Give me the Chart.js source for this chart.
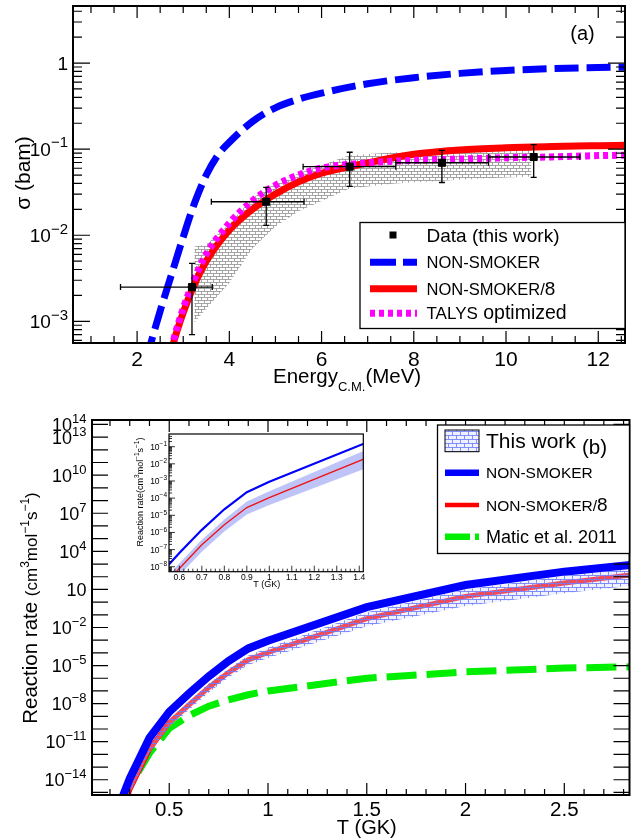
<!DOCTYPE html>
<html>
<head>
<meta charset="utf-8">
<script src="https://cdn.jsdelivr.net/npm/chart.js@4.4.1/dist/chart.umd.min.js"></script>
<style>
html, body { margin: 0; padding: 0; background: #fff; }
#wrap { position: relative; width: 631px; height: 839px; overflow: hidden; }
canvas { position: absolute; }
</style>
</head>
<body>
<div id="wrap">
  <canvas id="chartA" width="631" height="395" style="left:0;top:0;width:631px;height:395px"></canvas>
  <canvas id="chartB" width="631" height="444" style="left:0;top:395px;width:631px;height:444px"></canvas>
  <canvas id="inset" width="250" height="165" style="left:120px;top:425px;width:250px;height:165px"></canvas>
</div>
<script>
// ---- panel (a): cross section vs energy ----
const blueE = [2.2, 2.3, 2.5, 2.75, 3.0, 3.25, 3.5, 3.75, 4.0, 4.5, 5.0, 5.5, 6.0, 7.0, 8.0, 9.0, 10.0, 11.0, 12.0, 12.6];
const nonSmoker = [3.55e-4, 5.62e-4, 1.32e-3, 3.55e-3, 9.55e-3, 0.0240, 0.050, 0.0851, 0.120, 0.209, 0.302, 0.380, 0.447, 0.575, 0.676, 0.759, 0.822, 0.861, 0.887, 0.895];
const redE = [2.7, 2.8, 3.0, 3.25, 3.5, 4.0, 4.5, 5.0, 5.5, 6.0, 7.0, 8.0, 9.0, 10.0, 11.0, 12.0, 12.6];
const nonSmoker8 = [3.55e-4, 5.89e-4, 1.26e-3, 2.75e-3, 5.0e-3, 0.0115, 0.0200, 0.0302, 0.0417, 0.0525, 0.0692, 0.0871, 0.0977, 0.1035, 0.107, 0.1096, 0.111];
const talys = [3.8e-4, 6.31e-4, 1.41e-3, 3.16e-3, 6.03e-3, 0.0138, 0.0251, 0.0380, 0.0501, 0.0603, 0.0692, 0.0741, 0.0767, 0.0794, 0.0813, 0.0841, 0.0851];
const bandE = [3.24, 3.5, 4.0, 4.5, 5.0, 5.5, 6.0, 6.6, 7.6, 8.6, 9.6, 10.55];
const bandHigh = [7.4e-3, 7.8e-3, 0.0135, 0.027, 0.040, 0.052, 0.065, 0.085, 0.092, 0.094, 0.097, 0.100];
const bandLow = [9.6e-4, 1.4e-3, 2.8e-3, 7.0e-3, 0.0126, 0.019, 0.025, 0.035, 0.040, 0.043, 0.046, 0.048];

const dataE = [3.19, 4.80, 6.61, 8.61, 10.6];
const dataSigma = [2.5e-3, 0.0245, 0.0625, 0.0695, 0.081];
const dataELow = [1.64, 3.61, 5.6, 7.61, 9.62];
const dataEHigh = [3.63, 5.62, 7.61, 9.62, 11.6];
const dataSigmaLow = [7e-4, 0.013, 0.037, 0.041, 0.047];
const dataSigmaHigh = [4.7e-3, 0.036, 0.092, 0.097, 0.113];

// ---- panel (b): reaction rate vs temperature (log10 of the rate) ----
const rateT = [0.25, 0.3, 0.4, 0.5, 0.6, 0.7, 0.8, 0.9, 1.0, 1.5, 2.0, 2.5, 3.0];
const logNonSmoker = [-15.9, -13.9, -10.7, -8.65, -7.2, -5.85, -4.65, -3.65, -3.05, -0.4, 1.35, 2.4, 3.2];
const logNonSmoker8 = [-17.2, -14.8, -11.6, -9.5, -8.1, -6.72, -5.55, -4.55, -3.97, -1.3, 0.45, 1.5, 2.45];
const logMatic = [-16.2, -14.5, -11.9, -9.95, -8.95, -8.2, -7.7, -7.3, -7.0, -6.0, -5.5, -5.2, -5.05];
const logThisWorkHigh = [-16.9, -14.6, -11.35, -9.25, -7.8, -6.42, -5.25, -4.2, -3.6, -0.8, 1.0, 2.05, 2.95];
const logThisWorkLow = [-17.5, -15.1, -11.9, -9.85, -8.5, -7.12, -5.95, -4.95, -4.4, -1.9, -0.3, 0.7, 1.6];

// tick labels
const xLabelsA = [2, 4, 6, 8, 10, 12];
const yExpA = [0, -1, -2, -3];
const xLabelsB = [0.5, 1, 1.5, 2, 2.5];
const yExpB = [14, 13, 10, 7, 4, 1, -2, -5, -8, -11, -14];
const xLabelsInset = [0.6, 0.7, 0.8, 0.9, 1, 1.1, 1.2, 1.3, 1.4];
const yExpInset = [-1, -2, -3, -4, -5, -6, -7, -8];

const FONT = '"Liberation Sans", Arial, Helvetica, sans-serif';
const MINUS = '\u2212';

const pts = (xs, ys) => xs.map((x, i) => ({ x: x, y: ys[i] }));
const ptsLog = (xs, logs) => xs.map((x, i) => ({ x: x, y: Math.pow(10, logs[i]) }));

// draw text made of pieces (for super/subscripts); y is the visual centre line
function rich(ctx, parts, x, y, align) {
  let w = 0;
  parts.forEach(p => {
    ctx.font = p.s + 'px ' + FONT;
    p.w = ctx.measureText(p.t).width;
    w += p.w;
  });
  let cx = align === 'right' ? x - w : align === 'center' ? x - w / 2 : x;
  const base = y + 0.36 * parts[0].s;
  ctx.textAlign = 'left';
  ctx.textBaseline = 'alphabetic';
  parts.forEach(p => {
    ctx.font = p.s + 'px ' + FONT;
    ctx.fillText(p.t, cx, base + (p.dy || 0));
    cx += p.w;
  });
}

function powLabel(exp, size, supSize) {
  if (exp === 0) return [{ t: '1', s: size }];
  if (exp === 1) return [{ t: '10', s: size }];
  return [{ t: '10', s: size }, { t: (exp < 0 ? MINUS : '') + Math.abs(exp), s: supSize, dy: -0.45 * size }];
}

function brickPattern(w, h, color, bg) {
  const c = document.createElement('canvas');
  c.width = w; c.height = h;
  const g = c.getContext('2d');
  if (bg) { g.fillStyle = bg; g.fillRect(0, 0, w, h); }
  g.strokeStyle = color;
  g.lineWidth = 1;
  g.beginPath();
  g.moveTo(0, 0.5); g.lineTo(w, 0.5);
  g.moveTo(0, h / 2 + 0.5); g.lineTo(w, h / 2 + 0.5);
  g.moveTo(0.5, 0); g.lineTo(0.5, h / 2);
  g.moveTo(w / 2 + 0.5, h / 2); g.lineTo(w / 2 + 0.5, h);
  g.stroke();
  return g.createPattern(c, 'repeat');
}

// ROOT-like frame with inward ticks
function drawFrame(chart, o) {
  const { ctx, chartArea: a } = chart;
  const x = chart.scales.x, y = chart.scales.y;
  ctx.save();
  ctx.strokeStyle = '#000';
  ctx.lineWidth = o.tickWidth;
  ctx.beginPath();
  o.xTicks.forEach(([v, len]) => {
    const px = x.getPixelForValue(v);
    if (px < a.left + 1 || px > a.right - 1) return;
    ctx.moveTo(px, a.bottom); ctx.lineTo(px, a.bottom - len);
    if (o.mirror) { ctx.moveTo(px, a.top); ctx.lineTo(px, a.top + len); }
  });
  o.yTicks.forEach(([v, len]) => {
    const py = y.getPixelForValue(v);
    if (py < a.top + 1 || py > a.bottom - 1) return;
    ctx.moveTo(a.left, py); ctx.lineTo(a.left + len, py);
    if (o.mirror) { ctx.moveTo(a.right, py); ctx.lineTo(a.right - len, py); }
  });
  ctx.stroke();
  ctx.lineWidth = o.frameWidth;
  ctx.strokeRect(a.left, a.top, a.right - a.left, a.bottom - a.top);
  ctx.fillStyle = '#000';
  o.xLabels.forEach(v => rich(ctx, [{ t: String(v), s: o.xSize }], x.getPixelForValue(v), o.xLabelY, 'center'));
  o.yLabels.forEach(e => rich(ctx, powLabel(e, o.ySize, o.ySup), o.yLabelX, y.getPixelForValue(Math.pow(10, e)), 'right'));
  ctx.restore();
}

function rotated(ctx, parts, cx, cy) {
  ctx.save();
  ctx.translate(cx, cy);
  ctx.rotate(-Math.PI / 2);
  rich(ctx, parts, 0, 0, 'center');
  ctx.restore();
}

function makeChart(id, datasets, xr, yr, box, plugin) {
  return new Chart(document.getElementById(id), {
    type: 'line',
    data: { datasets: datasets },
    options: {
      responsive: false,
      animation: false,
      devicePixelRatio: 1,
      layout: { padding: { top: box.top, right: box.right, left: 0, bottom: 0 } },
      plugins: { legend: { display: false }, tooltip: { enabled: false } },
      elements: { point: { radius: 0 }, line: { tension: 0 } },
      scales: {
        x: {
          type: 'linear', min: xr[0], max: xr[1],
          grid: { display: false }, border: { display: false }, ticks: { display: false },
          afterFit: s => { s.height = box.bottom; }
        },
        y: {
          type: 'logarithmic', min: yr[0], max: yr[1],
          grid: { display: false }, border: { display: false }, ticks: { display: false },
          afterFit: s => { s.width = box.left; }
        }
      }
    },
    plugins: [plugin]
  });
}

// ---------- panel (a) ----------
const greyHatch = brickPattern(6, 6, 'rgba(150,150,150,0.85)');
const ticksA = { x: [], y: [] };
for (let i = 1; i <= 25; i++) ticksA.x.push([i * 0.5, i % 4 === 0 ? 12 : 7]);
for (let d = -4; d <= 0; d++) for (let m = 1; m <= 9; m++) ticksA.y.push([m * Math.pow(10, d), m === 1 ? 17 : 9]);

const panelA = {
  id: 'panelA',
  afterDatasetsDraw(chart) {
    const { ctx } = chart;
    const x = chart.scales.x, y = chart.scales.y;
    ctx.save();
    ctx.strokeStyle = '#000';
    ctx.lineWidth = 1.3;
    ctx.beginPath();
    dataE.forEach((e, i) => {
      const px = x.getPixelForValue(e), py = y.getPixelForValue(dataSigma[i]);
      const x0 = x.getPixelForValue(dataELow[i]), x1 = x.getPixelForValue(dataEHigh[i]);
      const y0 = y.getPixelForValue(dataSigmaLow[i]), y1 = y.getPixelForValue(dataSigmaHigh[i]);
      ctx.moveTo(x0, py); ctx.lineTo(x1, py);
      ctx.moveTo(px, y0); ctx.lineTo(px, y1);
      ctx.moveTo(x0, py - 3); ctx.lineTo(x0, py + 3);
      ctx.moveTo(x1, py - 3); ctx.lineTo(x1, py + 3);
      ctx.moveTo(px - 3, y0); ctx.lineTo(px + 3, y0);
      ctx.moveTo(px - 3, y1); ctx.lineTo(px + 3, y1);
    });
    ctx.stroke();
    ctx.restore();
  },
  afterDraw(chart) {
    const { ctx } = chart;
    drawFrame(chart, {
      tickWidth: 1.2, frameWidth: 2, mirror: true,
      xTicks: ticksA.x, yTicks: ticksA.y,
      xLabels: xLabelsA, xSize: 21, xLabelY: 358,
      yLabels: yExpA, ySize: 19, ySup: 15, yLabelX: 68
    });
    ctx.save();
    ctx.fillStyle = '#000';
    rotated(ctx, [{ t: '\u03c3 (bam)', s: 21 }], 22, 173);
    rich(ctx, [{ t: 'Energy', s: 20.5 }, { t: 'C.M.', s: 13, dy: 8 }, { t: '(MeV)', s: 20.5 }], 273, 376, 'left');
    rich(ctx, [{ t: '(a)', s: 20 }], 582.5, 33, 'center');

    // legend
    ctx.fillStyle = '#fff';
    ctx.fillRect(360, 222.5, 265, 106);
    ctx.strokeStyle = '#000';
    ctx.lineWidth = 1.3;
    ctx.strokeRect(360, 222.5, 265, 106);
    ctx.fillStyle = '#000';
    ctx.fillRect(389.5, 231.5, 7, 7);
    rich(ctx, [{ t: 'Data (this work)', s: 19 }], 426.5, 235, 'left');
    ctx.lineWidth = 7;
    ctx.strokeStyle = '#0000ff';
    ctx.setLineDash([26, 7]);
    ctx.beginPath(); ctx.moveTo(370, 262.3); ctx.lineTo(417, 262.3); ctx.stroke();
    ctx.setLineDash([]);
    ctx.strokeStyle = '#ff0000';
    ctx.beginPath(); ctx.moveTo(370, 288.7); ctx.lineTo(417, 288.7); ctx.stroke();
    ctx.strokeStyle = '#ff00ff';
    ctx.setLineDash([5, 4]);
    ctx.beginPath(); ctx.moveTo(370, 313.3); ctx.lineTo(417, 313.3); ctx.stroke();
    ctx.setLineDash([]);
    rich(ctx, [{ t: 'NON-SMOKER', s: 16.5 }], 426.5, 262.3, 'left');
    rich(ctx, [{ t: 'NON-SMOKER/', s: 16.5 }, { t: '8', s: 19 }], 426.5, 288.7, 'left');
    rich(ctx, [{ t: 'TALYS', s: 17 }, { t: ' optimized', s: 19.5 }], 426.5, 313.3, 'left');
    ctx.restore();
  }
};

makeChart('chartA', [
  { data: pts(dataE, dataSigma), showLine: false, pointStyle: 'rect', pointRadius: 5,
    backgroundColor: '#000', borderColor: '#000', order: 0 },
  { data: pts(redE, talys), borderColor: '#ff00ff', borderWidth: 7, borderDash: [5, 4],
    cubicInterpolationMode: 'monotone', order: 1 },
  { data: pts(redE, nonSmoker8), borderColor: '#ff0000', borderWidth: 7,
    cubicInterpolationMode: 'monotone', order: 2 },
  { data: pts(blueE, nonSmoker), borderColor: '#0000ff', borderWidth: 7, borderDash: [24, 8],
    cubicInterpolationMode: 'monotone', order: 3 },
  { data: pts(bandE, bandHigh), borderWidth: 0, fill: '+1', backgroundColor: greyHatch, order: 4 },
  { data: pts(bandE, bandLow), borderWidth: 0, fill: false, order: 4 }
], [0.61, 12.58], [5.6e-4, 4.6], { top: 5, right: 1.5, left: 73, bottom: 52 }, panelA);

// ---------- panel (b) ----------
const blueHatch = brickPattern(8, 8, 'rgba(110,125,255,0.85)', 'rgba(210,215,255,0.35)');
const ticksB = { x: [], y: [] };
for (let i = 1; i <= 28; i++) ticksB.x.push([i / 10, i % 5 === 0 ? 12 : 6]);
for (let d = -15; d <= 14; d++) ticksB.y.push([Math.pow(10, d), 16]);

const panelB = {
  id: 'panelB',
  afterDraw(chart) {
    const { ctx } = chart;
    drawFrame(chart, {
      tickWidth: 1.2, frameWidth: 2, mirror: true,
      xTicks: ticksB.x, yTicks: ticksB.y,
      xLabels: xLabelsB, xSize: 20.5, xLabelY: 413.3,
      yLabels: yExpB, ySize: 18, ySup: 13, yLabelX: 86.5
    });
    ctx.save();
    ctx.fillStyle = '#000';
    rotated(ctx, [
      { t: 'Reaction rate ', s: 20.5 }, { t: '(cm', s: 17 }, { t: '3', s: 12, dy: -8 },
      { t: 'mol', s: 17 }, { t: MINUS + '1', s: 12, dy: -8 }, { t: 's', s: 17 },
      { t: MINUS + '1', s: 12, dy: -8 }, { t: ')', s: 17 }
    ], 30, 213);
    rich(ctx, [{ t: 'T (GK)', s: 20 }], 366.7, 431.7, 'center');

    // legend
    const ly = -395;
    ctx.fillStyle = '#fff';
    ctx.fillRect(437.5, 425 + ly, 192, 128.5);
    ctx.strokeStyle = '#000';
    ctx.lineWidth = 1.3;
    ctx.strokeRect(437.5, 425 + ly, 192, 128.5);
    ctx.fillStyle = blueHatch;
    ctx.fillRect(445, 430 + ly, 34, 21.7);
    ctx.lineWidth = 1;
    ctx.strokeRect(445, 430 + ly, 34, 21.7);
    ctx.lineWidth = 6.5;
    ctx.strokeStyle = '#0000ff';
    ctx.beginPath(); ctx.moveTo(445, 472.7 + ly); ctx.lineTo(479, 472.7 + ly); ctx.stroke();
    ctx.lineWidth = 4.5;
    ctx.strokeStyle = '#ff0000';
    ctx.beginPath(); ctx.moveTo(445, 505 + ly); ctx.lineTo(479, 505 + ly); ctx.stroke();
    ctx.lineWidth = 6.5;
    ctx.strokeStyle = '#00ee00';
    ctx.setLineDash([25, 5]);
    ctx.beginPath(); ctx.moveTo(445, 536.7 + ly); ctx.lineTo(479, 536.7 + ly); ctx.stroke();
    ctx.setLineDash([]);
    ctx.fillStyle = '#000';
    rich(ctx, [{ t: 'This work', s: 21 }], 486, 440.7 + ly, 'left');
    rich(ctx, [{ t: '(b)', s: 20.5 }], 582, 446.7 + ly, 'left');
    rich(ctx, [{ t: 'NON-SMOKER', s: 15.5 }], 486, 472.7 + ly, 'left');
    rich(ctx, [{ t: 'NON-SMOKER/', s: 15.5 }, { t: '8', s: 19 }], 486, 505 + ly, 'left');
    rich(ctx, [{ t: 'Matic et al. 2011', s: 18 }], 486, 536.7 + ly, 'left');
    ctx.restore();
  }
};

makeChart('chartB', [
  { data: ptsLog(rateT, logNonSmoker), borderColor: '#0000ff', borderWidth: 8, order: 0 },
  { data: ptsLog(rateT, logThisWorkHigh), borderWidth: 0, fill: '+1', backgroundColor: blueHatch, order: 1 },
  { data: ptsLog(rateT, logThisWorkLow), borderWidth: 0, fill: false, order: 1 },
  { data: ptsLog(rateT, logNonSmoker8), borderColor: '#ff0000', borderWidth: 5, order: 2 },
  { data: ptsLog(rateT, logMatic), borderColor: '#00ee00', borderWidth: 7, borderDash: [30, 10], order: 3 }
], [0.109, 2.83], [Math.pow(10, -15.2), Math.pow(10, 14.35)], { top: 25, right: 1.5, left: 92, bottom: 44 }, panelB);

// ---------- inset ----------
const ticksI = { x: [], y: [] };
for (let i = 28; i <= 71; i++) ticksI.x.push([i / 50, i % 5 === 0 ? 6 : 3]);
for (let d = -9; d <= -1; d++) for (let m = 1; m <= 9; m++) ticksI.y.push([m * Math.pow(10, d), m === 1 ? 6 : 3]);

const panelInset = {
  id: 'panelInset',
  beforeDraw(chart) {
    const { ctx, chartArea: a } = chart;
    ctx.save();
    ctx.fillStyle = '#fff';
    ctx.fillRect(a.left, a.top, a.right - a.left, a.bottom - a.top);
    ctx.restore();
  },
  afterDraw(chart) {
    const { ctx } = chart;
    drawFrame(chart, {
      tickWidth: 0.8, frameWidth: 1.2, mirror: false,
      xTicks: ticksI.x, yTicks: ticksI.y,
      xLabels: xLabelsInset, xSize: 8.5, xLabelY: 151.7,
      yLabels: yExpInset, ySize: 8.5, ySup: 6.5, yLabelX: 47
    });
    ctx.save();
    ctx.fillStyle = '#000';
    rotated(ctx, [
      { t: 'Reaction rate(cm', s: 9 }, { t: '3', s: 6.5, dy: -4 }, { t: 'mol', s: 9 },
      { t: MINUS + '1', s: 6.5, dy: -4 }, { t: 's', s: 9 }, { t: MINUS + '1', s: 6.5, dy: -4 }, { t: ')', s: 9 }
    ], 20, 67);
    rich(ctx, [{ t: 'T (GK)', s: 9 }], 146.7, 159, 'center');
    ctx.restore();
  }
};

makeChart('inset', [
  { data: ptsLog(rateT, logNonSmoker), borderColor: '#0000ff', borderWidth: 2.2, order: 0 },
  { data: ptsLog(rateT, logNonSmoker8), borderColor: '#ee1111', borderWidth: 1.3, order: 1 },
  { data: ptsLog(rateT, logThisWorkHigh), borderWidth: 0, fill: '+1', backgroundColor: 'rgba(110,125,240,0.45)', order: 2 },
  { data: ptsLog(rateT, logThisWorkLow), borderWidth: 0, fill: false, order: 2 }
], [0.554, 1.418], [Math.pow(10, -8.29), Math.pow(10, -0.26)], { top: 9, right: 6.7, left: 49, bottom: 18.3 }, panelInset);
</script>
</body>
</html>
